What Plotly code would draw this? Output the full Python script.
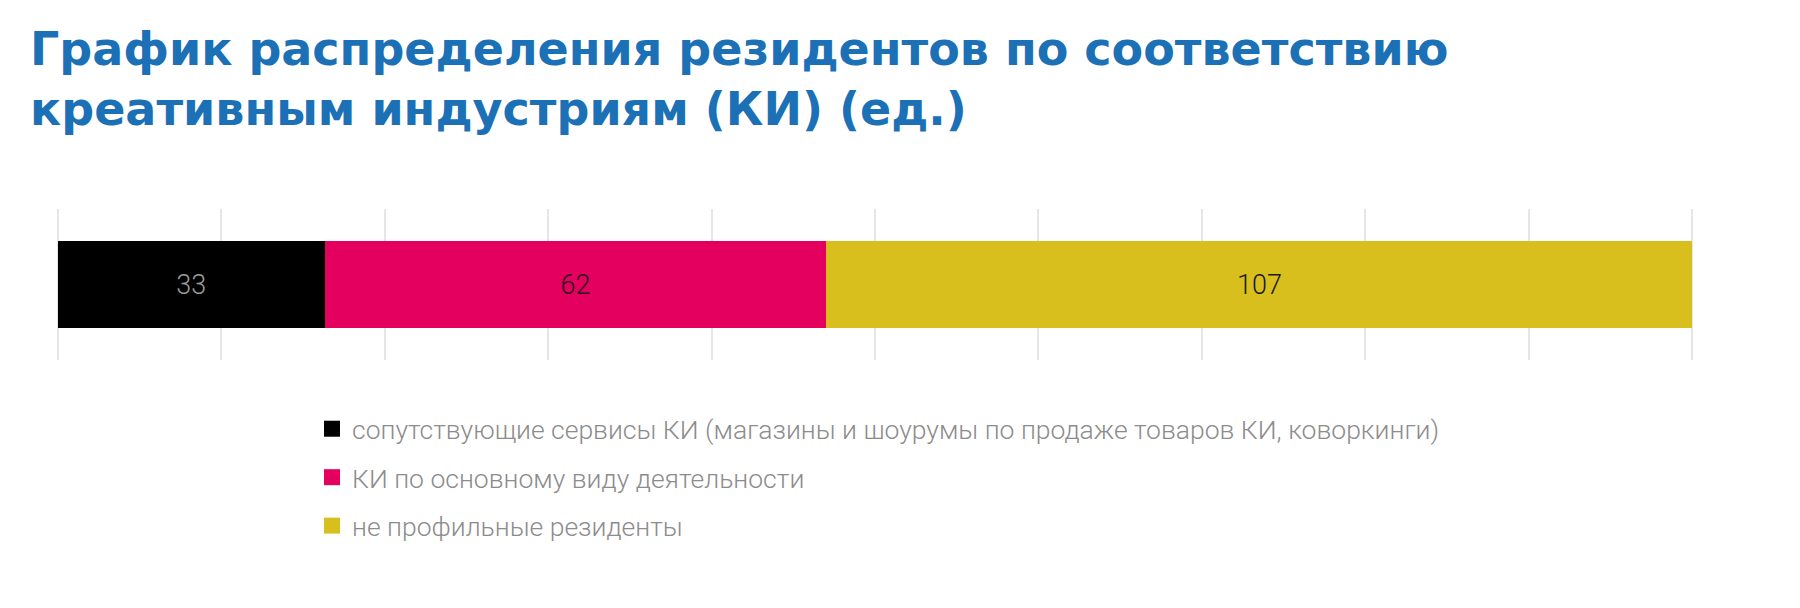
import plotly.graph_objects as go

categories = ["КИ"]
series_names = [
    "сопутствующие сервисы КИ (магазины и шоурумы по продаже товаров КИ, коворкинги)",
    "КИ по основному виду деятельности",
    "не профильные резиденты",
]
series_values = [[33], [62], [107]]
series_colors = ["#000000", "#E3005F", "#D9BF1E"]
label_colors = ["#9a9a9a", "#2a0d18", "#1a1a1a"]

title_text = "График распределения резидентов по соответствию<br>креативным индустриям (КИ) (ед.)"

W, H = 1800, 608
L, R, T, B = 48, 114, 201, 256
PW = W - L - R
PH = H - T - B

fig = go.Figure()
for i, (name, vals) in enumerate(zip(series_names, series_values)):
    fig.add_trace(go.Bar(
        y=categories,
        x=vals,
        name=name,
        orientation="h",
        marker=dict(color=series_colors[i], line=dict(width=0)),
        text=[str(v) for v in vals],
        textposition="inside",
        insidetextanchor="middle",
        textfont=dict(family="Roboto", size=27, color=label_colors[i], weight=300),
        legendgroup=f"g{i}",
        showlegend=False,
        width=0.576,
        hoverinfo="skip",
    ))

# legend entries with square swatches
for i, name in enumerate(series_names):
    fig.add_trace(go.Scatter(
        x=[None], y=[None],
        mode="markers",
        name=name,
        marker=dict(symbol="square", size=16, color=series_colors[i]),
        legendgroup=f"g{i}",
        showlegend=True,
        hoverinfo="skip",
    ))

fig.add_annotation(
    text=title_text,
    xref="paper", yref="paper",
    x=(20 - L) / PW,
    y=1 + (T - 12) / PH,
    xanchor="left", yanchor="top",
    align="left",
    showarrow=False,
    font=dict(family="DejaVu Sans", size=46, color="#1B70B6", weight="bold"),
)

fig.update_layout(
    width=W,
    height=H,
    barmode="stack",
    barnorm="percent",
    paper_bgcolor="white",
    plot_bgcolor="white",
    margin=dict(l=L, r=R, t=T, b=B),
    xaxis=dict(
        range=[-0.1, 100.1],
        dtick=10,
        tick0=0,
        showgrid=True,
        gridcolor="#e6e6e6",
        gridwidth=2,
        zeroline=False,
        showline=False,
        showticklabels=False,
        ticks="",
        fixedrange=True,
    ),
    yaxis=dict(
        showticklabels=False,
        showgrid=False,
        zeroline=False,
        showline=False,
        ticks="",
        range=[-0.5, 0.5],
        fixedrange=True,
    ),
    showlegend=True,
    legend=dict(
        orientation="v",
        traceorder="grouped",
        tracegroupgap=11,
        x=(304 - L) / PW,
        xanchor="left",
        y=-(397 - (T + PH)) / PH,
        yanchor="top",
        font=dict(family="Roboto", size=26.5, color="#8c8c8c", weight=300),
        itemwidth=30,
        bgcolor="rgba(0,0,0,0)",
    ),
)

fig.write_html("out.html")
